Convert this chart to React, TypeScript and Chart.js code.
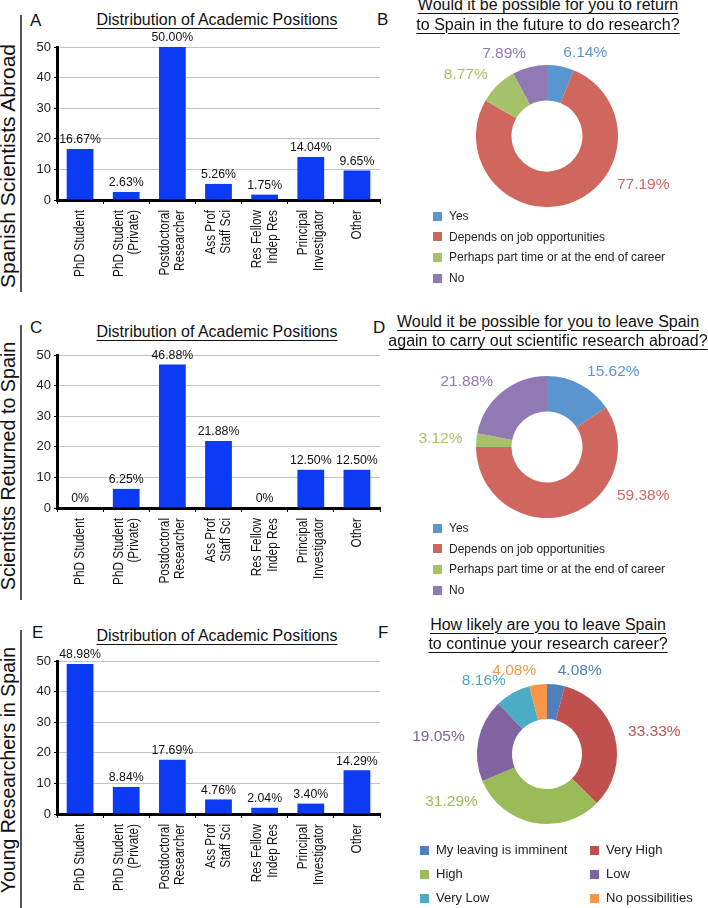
import React, { useEffect, useRef } from "react";
import { Chart, registerables } from "chart.js";

Chart.register(...registerables);

// ---------------- DATA ----------------
const positionLabels: string[][] = [
  ["PhD Student"],
  ["PhD Student", "(Private)"],
  ["Postdoctoral", "Researcher"],
  ["Ass Prof", "Staff Sci"],
  ["Res Fellow", "Indep Res"],
  ["Principal", "Investigator"],
  ["Other"],
];
const abroadPercent = [16.67, 2.63, 50.0, 5.26, 1.75, 14.04, 9.65];
const returnedPercent = [0, 6.25, 46.88, 21.88, 0, 12.5, 12.5];
const youngPercent = [48.98, 8.84, 17.69, 4.76, 2.04, 3.4, 14.29];
const yTickValues = [0, 10, 20, 30, 40, 50];

const returnAnswers = ["Yes", "Depends on job opportunities", "Perhaps part time or at the end of career", "No"];
const returnPercent = [6.14, 77.19, 8.77, 7.89];
const leaveAgainPercent = [15.62, 59.38, 3.12, 21.88];

const likelyAnswers = ["My leaving is imminent", "Very High", "High", "Low", "Very Low", "No possibilities"];
const likelyPercent = [4.08, 33.33, 31.29, 19.05, 8.16, 4.08];

const rowTitles = ["Spanish Scientists Abroad", "Scientists Returned to Spain", "Young Researchers in Spain"];
const barTitle = "Distribution of Academic Positions";
const returnTitle = ["Would it be possible for you to return", "to Spain in the future to do research?"];
const leaveAgainTitle = ["Would it be possible for you to leave Spain", "again to carry out scientific research abroad?"];
const likelyTitle = ["How likely are you to leave Spain", "to continue your research career?"];
const panelLetters = ["A", "B", "C", "D", "E", "F"];

// ---------------- STYLE ----------------
const FONT = '"Liberation Sans", Arial, Helvetica, sans-serif';
const BAR_BLUE = "#0b3bf5";
const returnColors = ["#5b95cf", "#d0675e", "#a5c26b", "#9179b4"];
const likelyColors = ["#4f80bd", "#c0504d", "#9bbb59", "#8064a2", "#4bacc6", "#f79646"];

const fmt = (v: number) => (v === 0 ? "0%" : v.toFixed(2) + "%");

// bar panel geometry
const BAR_LEFT = 20;
const BAR_W = 362;
const BAR_PAD_TOP = 17;
const BAR_PLOT_H = 153;
const BAR_XAXIS_H = 92;
const BAR_YAXIS_W = 37;

const barLabelPlugin = {
  id: "barLabels",
  afterDatasetsDraw(chart: any) {
    const ctx = chart.ctx as CanvasRenderingContext2D;
    const meta = chart.getDatasetMeta(0);
    const data = chart.data.datasets[0].data as number[];
    ctx.save();
    ctx.font = `12.3px ${FONT}`;
    ctx.fillStyle = "#111";
    ctx.textAlign = "center";
    ctx.textBaseline = "bottom";
    meta.data.forEach((el: any, i: number) => {
      ctx.fillText(fmt(data[i]), el.x, el.y - 3);
    });
    const xs = chart.scales.x;
    ctx.font = `11.8px ${FONT}`;
    ctx.fillStyle = "#111";
    ctx.textAlign = "right";
    ctx.textBaseline = "middle";
    (chart.data.labels as string[][]).forEach((lines, i) => {
      const px = xs.getPixelForTick(i);
      lines.forEach((line, j) => {
        const off = (j - (lines.length - 1) / 2) * 15.5;
        ctx.save();
        ctx.translate(px + off, chart.chartArea.bottom + 10);
        ctx.rotate(-Math.PI / 2);
        ctx.scale(1, 1.28);
        ctx.fillText(line, 0, 0);
        ctx.restore();
      });
    });
    ctx.restore();
  },
};

function BarPanel({ values, plotTop }: { values: number[]; plotTop: number }) {
  const ref = useRef<HTMLCanvasElement>(null);
  useEffect(() => {
    const chart = new Chart(ref.current!, {
      type: "bar",
      data: {
        labels: positionLabels as any,
        datasets: [
          {
            data: values,
            backgroundColor: BAR_BLUE,
            borderWidth: 0,
            barPercentage: 0.58,
            categoryPercentage: 1,
          },
        ],
      },
      options: {
        animation: false,
        responsive: false,
        devicePixelRatio: 1,
        layout: { padding: { top: BAR_PAD_TOP, right: 2, left: 0, bottom: 0 } },
        plugins: { legend: { display: false }, tooltip: { enabled: false }, title: { display: false } },
        scales: {
          x: {
            grid: {
              display: true,
              drawOnChartArea: false,
              drawTicks: true,
              tickLength: 4,
              color: "#000",
              lineWidth: 1,
              offset: true,
            },
            border: { display: true, color: "#000", width: 3 },
            ticks: { display: false },
            afterFit: (s: any) => {
              s.height = BAR_XAXIS_H;
            },
          },
          y: {
            min: 0,
            max: 50,
            afterBuildTicks: (s: any) => {
              s.ticks = yTickValues.map((v) => ({ value: v }));
            },
            ticks: { font: { family: FONT, size: 13 }, color: "#222", padding: 3 },
            grid: { color: "#c4c4c4", tickColor: "#000", tickLength: 3, lineWidth: 1 },
            border: { display: true, color: "#000", width: 3 },
            afterFit: (s: any) => {
              s.width = BAR_YAXIS_W;
            },
          },
        },
      } as any,
      plugins: [barLabelPlugin],
    });
    return () => chart.destroy();
  }, [values]);
  const h = BAR_PAD_TOP + BAR_PLOT_H + BAR_XAXIS_H;
  return (
    <canvas
      ref={ref}
      width={BAR_W}
      height={h}
      style={{ position: "absolute", left: BAR_LEFT, top: plotTop - BAR_PAD_TOP, width: BAR_W, height: h }}
    />
  );
}

const donutLabelPlugin = {
  id: "donutLabels",
  afterDatasetsDraw(chart: any) {
    const ctx = chart.ctx as CanvasRenderingContext2D;
    const meta = chart.getDatasetMeta(0);
    const ds = chart.data.datasets[0];
    const data = ds.data as number[];
    const colors = ds.backgroundColor as string[];
    ctx.save();
    ctx.font = `15.5px ${FONT}`;
    ctx.textBaseline = "middle";
    meta.data.forEach((arc: any, i: number) => {
      const p = arc.getProps(["x", "y", "startAngle", "endAngle", "outerRadius"], true);
      const mid = (p.startAngle + p.endAngle) / 2;
      const R = p.outerRadius + 14;
      let dx = Math.cos(mid) * R;
      let dy = Math.sin(mid) * R;
      const maxDy = p.outerRadius * 0.68;
      if (dy > maxDy) {
        dy = maxDy;
        dx = (dx >= 0 ? 1 : -1) * Math.sqrt(R * R - dy * dy);
      }
      ctx.textAlign = dx >= 0 ? "left" : "right";
      ctx.fillStyle = colors[i];
      ctx.fillText(fmt(data[i]), p.x + dx, p.y + dy);
    });
    ctx.restore();
  },
};

type DonutProps = {
  values: number[];
  labels: string[];
  colors: string[];
  cx: number;
  cy: number;
  r: number;
  top: number;
};

const DONUT_LEFT = 380;
const DONUT_W = 328;
const DONUT_H = 190;

function DonutPanel({ values, labels, colors, cx, cy, r, top }: DonutProps) {
  const ref = useRef<HTMLCanvasElement>(null);
  useEffect(() => {
    const chart = new Chart(ref.current!, {
      type: "doughnut",
      data: { labels, datasets: [{ data: values, backgroundColor: colors, borderWidth: 0, hoverBorderWidth: 0 }] },
      options: {
        animation: false,
        responsive: false,
        devicePixelRatio: 1,
        cutout: "50%",
        layout: {
          padding: {
            left: cx - r - DONUT_LEFT,
            right: DONUT_LEFT + DONUT_W - (cx + r),
            top: cy - r - top,
            bottom: top + DONUT_H - (cy + r),
          },
        },
        plugins: { legend: { display: false }, tooltip: { enabled: false } },
      } as any,
      plugins: [donutLabelPlugin],
    });
    return () => chart.destroy();
  }, [values, labels, colors]);
  return (
    <canvas
      ref={ref}
      width={DONUT_W}
      height={DONUT_H}
      style={{ position: "absolute", left: DONUT_LEFT, top, width: DONUT_W, height: DONUT_H }}
    />
  );
}

function Legend({
  items,
  colors,
  x,
  y,
  rowGap,
  columns,
  colGap,
  fontSize,
}: {
  items: string[];
  colors: string[];
  x: number;
  y: number;
  rowGap: number;
  columns: number;
  colGap: number;
  fontSize: number;
}) {
  return (
    <>
      {items.map((t, i) => {
        const col = i % columns;
        const row = Math.floor(i / columns);
        const left = x + col * colGap;
        const cy = y + row * rowGap;
        return (
          <div key={t + i}>
            <div
              style={{ position: "absolute", left, top: cy - 4.5, width: 9, height: 9, background: colors[i] }}
            />
            <div
              style={{
                position: "absolute",
                left: left + 16,
                top: cy - 8,
                height: 16,
                lineHeight: "16px",
                fontSize,
                fontFamily: FONT,
                color: "#222",
                whiteSpace: "nowrap",
              }}
            >
              {t}
            </div>
          </div>
        );
      })}
    </>
  );
}

function Title({ lines, cx, baseline }: { lines: string[]; cx: number; baseline: number }) {
  return (
    <>
      {lines.map((l, i) => (
        <div
          key={i}
          style={{
            position: "absolute",
            left: cx - 200,
            width: 400,
            top: baseline - 15.3 + i * 19.5,
            textAlign: "center",
            fontFamily: FONT,
            fontSize: 16,
            lineHeight: "19.5px",
            color: "#111",
            whiteSpace: "nowrap",
          }}
        >
          <span style={{ textDecoration: "underline", textUnderlineOffset: "3px", textDecorationThickness: "1.2px" }}>
            {l}
          </span>
        </div>
      ))}
    </>
  );
}

function Letter({ text, left, baseline }: { text: string; left: number; baseline: number }) {
  return (
    <div
      style={{
        position: "absolute",
        left,
        top: baseline - 14.4,
        fontFamily: FONT,
        fontSize: 17,
        lineHeight: "17px",
        color: "#111",
      }}
    >
      {text}
    </div>
  );
}

function RowLabel({ text, cy, size, lineTop, lineBottom }: { text: string; cy: number; size: number; lineTop: number; lineBottom: number }) {
  return (
    <>
      <div
        style={{
          position: "absolute",
          left: 8,
          top: cy,
          transform: "translate(-50%, -50%) rotate(-90deg)",
          fontFamily: FONT,
          fontSize: size,
          lineHeight: "24px",
          color: "#111",
          whiteSpace: "nowrap",
        }}
      >
        {text}
      </div>
      <div style={{ position: "absolute", left: 20, top: lineTop, width: 2, height: lineBottom - lineTop, background: "#555" }} />
    </>
  );
}

export default function App() {
  return (
    <div
      style={{
        position: "absolute",
        left: 0,
        top: 0,
        width: 708,
        height: 908,
        background: "#fff",
        overflow: "hidden",
      }}
    >
      <RowLabel text={rowTitles[0]} cy={166} size={21} lineTop={15} lineBottom={292} />
      <RowLabel text={rowTitles[1]} cy={466} size={19.7} lineTop={325} lineBottom={600} />
      <RowLabel text={rowTitles[2]} cy={770} size={19.5} lineTop={630} lineBottom={908} />

      <Letter text={panelLetters[0]} left={30} baseline={26} />
      <Letter text={panelLetters[1]} left={377} baseline={25} />
      <Letter text={panelLetters[2]} left={30} baseline={333} />
      <Letter text={panelLetters[3]} left={373} baseline={333} />
      <Letter text={panelLetters[4]} left={32} baseline={638} />
      <Letter text={panelLetters[5]} left={378} baseline={638} />

      <Title lines={[barTitle]} cx={217} baseline={25} />
      <Title lines={[barTitle]} cx={217} baseline={337} />
      <Title lines={[barTitle]} cx={217} baseline={641} />

      <BarPanel values={abroadPercent} plotTop={47} />
      <BarPanel values={returnedPercent} plotTop={355} />
      <BarPanel values={youngPercent} plotTop={661} />

      <Title lines={returnTitle} cx={548} baseline={10.5} />
      <Title lines={leaveAgainTitle} cx={548} baseline={327} />
      <Title lines={likelyTitle} cx={548} baseline={630} />

      <DonutPanel values={returnPercent} labels={returnAnswers} colors={returnColors} cx={547} cy={136} r={71} top={30} />
      <DonutPanel values={leaveAgainPercent} labels={returnAnswers} colors={returnColors} cx={547} cy={447} r={71} top={340} />
      <DonutPanel values={likelyPercent} labels={likelyAnswers} colors={likelyColors} cx={547} cy={754} r={70} top={650} />

      <Legend items={returnAnswers} colors={returnColors} x={433} y={216} rowGap={20.7} columns={1} colGap={0} fontSize={12} />
      <Legend items={returnAnswers} colors={returnColors} x={433} y={528} rowGap={20.7} columns={1} colGap={0} fontSize={12} />
      <Legend items={likelyAnswers} colors={likelyColors} x={420} y={850} rowGap={24} columns={2} colGap={170} fontSize={13} />
    </div>
  );
}
